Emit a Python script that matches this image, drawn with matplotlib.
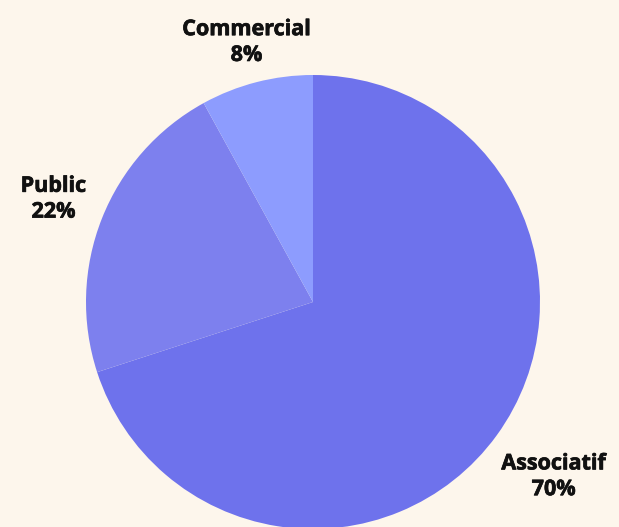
import matplotlib.pyplot as plt
import matplotlib.patheffects as pe
import numpy as np

labels = ["Associatif", "Public", "Commercial"]
shares = [70, 22, 8]
colors = ["#6E72EC", "#7D80EE", "#8D9CFE"]
label_dist = [1.31, 1.23, 1.18]

fig = plt.figure(figsize=(6.19, 5.27), dpi=100, facecolor="#FDF6EC")
ax = fig.add_axes([0, 0, 1, 1])
ax.set_facecolor("#FDF6EC")

cx, cy, r = 313, 225, 227
wedges, _ = ax.pie(
    shares,
    colors=colors,
    startangle=90,
    counterclock=False,
    center=(cx, cy),
    radius=r,
    frame=True,
    wedgeprops={"linewidth": 0},
)
ax.set_xlim(0, 619)
ax.set_ylim(0, 527)
ax.set_aspect("equal")
ax.axis("off")

for w, lab, val, d in zip(wedges, labels, shares, label_dist):
    mid = np.deg2rad((w.theta1 + w.theta2) / 2)
    x = cx + d * r * np.cos(mid)
    y = cy + d * r * np.sin(mid)
    ax.text(x, y, f"{lab}\n{val}%", ha="center", va="center",
            fontsize=15.5, fontweight="bold", family="Open Sans",
            color="#111111", linespacing=1.3,
            path_effects=[pe.withStroke(linewidth=0.5, foreground="#111111")])

fig.savefig("out.png", dpi=100, facecolor=fig.get_facecolor())
